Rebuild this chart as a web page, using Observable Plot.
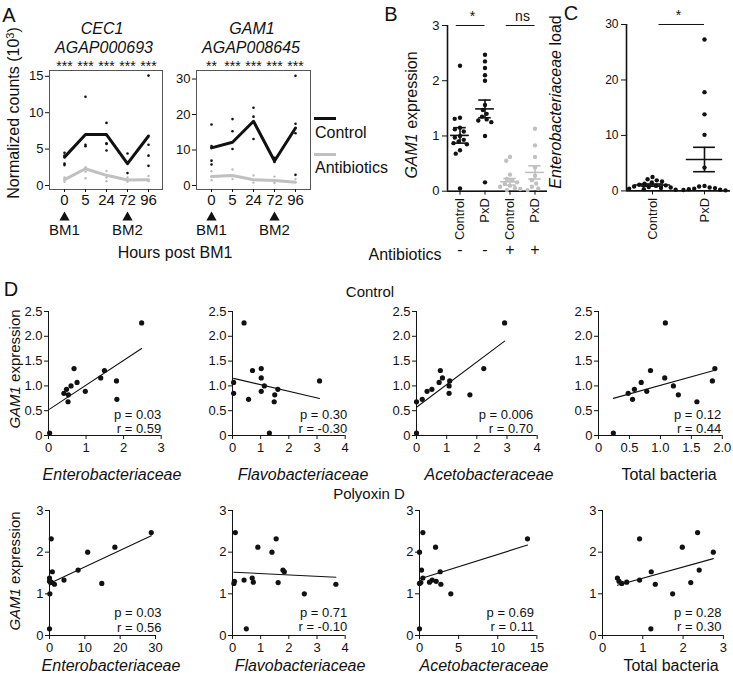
<!DOCTYPE html>
<html><head><meta charset="utf-8">
<script src="https://cdn.jsdelivr.net/npm/d3@7"></script>
<script src="https://cdn.jsdelivr.net/npm/@observablehq/plot@0.6"></script>
<style>
body{margin:0;background:#fff;font-family:"Liberation Sans",Arial,Helvetica,sans-serif;}
#root{position:relative;width:733px;height:673px;overflow:hidden;background:#fff;}
.p{position:absolute;}
.t{position:absolute;white-space:nowrap;color:#111;font-size:16px;line-height:1;}
.c{transform:translate(-50%,-50%);}
.rot{transform:translate(-50%,-50%) rotate(-90deg);}
.l{transform:translate(0,-50%);}
.sw{position:absolute;height:3px;}
</style></head><body><div id="root"></div>
<script>
// ---------------- DATA ----------------
// Panel A
const hours = ["0", "5", "24", "72", "96"];
const bloodMeals = [{h: "0", label: "BM1"}, {h: "72", label: "BM2"}];
const cec1Stars = ["***", "***", "***", "***", "***"];
const cec1Control = [3.9, 7.0, 7.0, 3.0, 6.8];
const cec1Antibiotics = [0.8, 2.3, 1.4, 0.75, 0.8];
const cec1ControlReps = [[4.5, 4.1, 3.0, 2.8], [12.2, 5.6, 5.4], [8.6, 5.8, 5.7, 4.8], [4.4, 1.7], [15.1, 5.6, 4.1, 2.7]];
const cec1AntibioticsReps = [[1.1, 0.5], [2.5, 1.9, 1.0], [2.0, 1.1, 0.6], [1.1, 0.5], [1.3, 0.6]];
const gam1Stars = ["**", "***", "***", "***", "***"];
const gam1Control = [10.6, 12.2, 18.1, 6.9, 16.2];
const gam1Antibiotics = [2.5, 2.8, 1.6, 1.4, 0.9];
const gam1ControlReps = [[17.2, 11.1, 7.0, 5.9], [18.7, 15.3, 10.3], [21.9, 19.4, 13.1], [7.8, 6.6], [30.9, 17.4, 14.7, 3.0]];
const gam1AntibioticsReps = [[4.0, 1.5], [4.5, 1.8], [2.8, 0.8], [2.5, 0.7], [1.8]];

// Panel B
const bGroups = ["c-", "p-", "c+", "p+"];
const bTreatment = ["Control", "PxD", "Control", "PxD"];
const bAntibiotics = ["-", "-", "+", "+"];
const bControl = [2.27, 1.33, 1.31, 1.15, 1.12, 1.08, 1.0, 0.97, 0.93, 0.9, 0.87, 0.85, 0.74, 0.68, 0.05];
const bPxD = [2.47, 2.35, 2.23, 2.1, 2.0, 1.56, 1.47, 1.4, 1.35, 1.3, 1.28, 1.25, 1.0, 0.16];
const bAbControl = [0.62, 0.55, 0.3, 0.22, 0.2, 0.16, 0.13, 0.1, 0.08, 0.06, 0.04, 0.02];
const bAbPxD = [1.13, 0.83, 0.62, 0.43, 0.28, 0.2, 0.14, 0.08, 0.05, 0.02];
const bMean = [1.01, 1.49, 0.17, 0.34];
const bSem = [0.14, 0.16, 0.06, 0.12];
const bSig = [{a: "c-", b: "p-", label: "*"}, {a: "c+", b: "p+", label: "ns"}];

// Panel C
const cGroups = ["Control", "PxD"];
const cControl = [2.5, 2.1, 1.9, 1.7, 1.5, 1.3, 1.1, 1.0, 0.9, 0.8, 0.7, 0.6, 0.5, 0.4, 0.3, 0.2];
const cPxD = [27.3, 17.8, 13.8, 10.1, 4.2, 0.9, 0.8, 0.6, 0.5, 0.4, 0.3, 0.2, 0.15, 0.1];
const cMean = [1.05, 5.66];
const cSem = [0.2, 2.2];

// Panel D, Control row (same mosquitoes in each panel)
const ctrlGAM1 = [2.27, 1.35, 1.31, 1.16, 1.10, 1.07, 1.00, 0.93, 0.89, 0.85, 0.82, 0.73, 0.68, 0.05];
const ctrlEntero = [2.48, 0.68, 1.49, 1.39, 1.81, 0.76, 0.60, 0.48, 0.98, 0.41, 0.53, 1.82, 0.52, 0.03];
const ctrlFlavo = [0.41, 1.02, 0.71, 1.02, 3.09, 0.04, 1.13, 1.61, 1.02, 0.04, 1.50, 0.57, 1.48, 1.31];
const ctrlAceto = [2.92, 2.23, 0.79, 0.86, 1.10, 0.75, 1.08, 0.51, 0.35, 1.08, 1.77, 0.19, 0.0, 0.0];
const ctrlTotal = [1.08, 1.88, 0.84, 1.07, 1.84, 0.69, 1.21, 0.58, 0.78, 0.48, 1.29, 0.55, 1.59, 0.24];
const ctrlP = ["0.03", "0.30", "0.006", "0.12"];
const ctrlR = ["0.59", "-0.30", "0.70", "0.44"];

// Panel D, Polyoxin D row
const pxdGAM1 = [2.47, 2.32, 2.12, 2.00, 1.57, 1.53, 1.38, 1.33, 1.30, 1.28, 1.27, 1.25, 1.23, 1.00, 0.16];
const pxdEntero = [28.8, 0.5, 18.5, 10.8, 8.1, 0.8, 0.0, 4.1, 0.0, 0.5, 0.3, 14.8, 1.4, 0.1, 0.0];
const pxdFlavo = [0.1, 1.55, 0.9, 1.4, 1.79, 1.84, 0.70, 0.41, 0.07, 0.74, 1.62, 0.05, 3.67, 2.55, 0.49];
const pxdAceto = [0.43, 13.8, 2.05, 0.0, 0.26, 2.64, 0.43, 1.62, 2.13, 1.28, 0.17, 0.0, 2.73, 4.0, 0.0];
const pxdTotal = [2.36, 0.92, 1.98, 2.75, 2.40, 1.21, 0.37, 0.92, 0.41, 0.60, 2.19, 0.48, 1.31, 1.74, 1.20];
const pxdP = ["0.03", "0.71", "0.69", "0.28"];
const pxdR = ["0.56", "-0.10", "0.11", "0.30"];

const taxa = ["Enterobacteriaceae", "Flavobacteriaceae", "Acetobacteraceae", "Total bacteria"];

// ---------------- HELPERS ----------------
const FONT = '"Liberation Sans", Arial, Helvetica, sans-serif';
const INK = "#111";
const GRAY = "#c0c0c0";
const root = document.getElementById("root");
function style(fs) { return {fontFamily: FONT, fontSize: fs + "px", color: INK, background: "none", overflow: "visible"}; }
function box(x0, y0, x1, y1, m) {
  return {width: x1 - x0 + m.l + m.r, height: y1 - y0 + m.t + m.b, left: x0 - m.l, top: y0 - m.t,
    marginLeft: m.l, marginRight: m.r, marginTop: m.t, marginBottom: m.b};
}
function mount(svg, b) {
  const d = document.createElement("div");
  d.className = "p"; d.style.left = b.left + "px"; d.style.top = b.top + "px";
  d.appendChild(svg); root.appendChild(d);
}
function txt(html, x, y, cls, fs, extra) {
  const d = document.createElement("div");
  d.className = "t " + cls; d.innerHTML = html;
  d.style.left = x + "px"; d.style.top = y + "px";
  if (fs) d.style.fontSize = fs + "px";
  if (extra) Object.assign(d.style, extra);
  root.appendChild(d);
}
function dims(b) {
  return {width: b.width, height: b.height, marginLeft: b.marginLeft, marginRight: b.marginRight, marginTop: b.marginTop, marginBottom: b.marginBottom};
}
const plain = d => String(d);

// ---------------- PANEL A ----------------
function timecourse(g) {
  const b = box(g.x0, 70, g.x1, 189, {l: 40, r: 6, t: 45, b: 75});
  const means = hours.map((h, i) => ({h, c: g.ctrl[i], a: g.abx[i]}));
  const cPts = hours.flatMap((h, i) => g.ctrlReps[i].map(v => ({h, v})));
  const aPts = hours.flatMap((h, i) => g.abxReps[i].map(v => ({h, v})));
  const svg = Plot.plot({
    ...dims(b), style: style(13),
    x: {type: "point", domain: hours, padding: 0.6},
    y: {domain: g.ydom},
    marks: [
      Plot.frame({stroke: "#555"}),
      Plot.axisY({ticks: g.yticks, tickFormat: plain, tickSize: 4, tickPadding: 2, label: null, fontSize: 13}),
      Plot.axisX({tickSize: 3, tickPadding: 2, label: null, fontSize: 15}),
      Plot.dot(aPts, {x: "h", y: "v", r: 1.2, fill: "#bbb"}),
      Plot.dot(cPts, {x: "h", y: "v", r: 1.3, fill: INK}),
      Plot.line(means, {x: "h", y: "a", stroke: GRAY, strokeWidth: 3}),
      Plot.line(means, {x: "h", y: "c", stroke: INK, strokeWidth: 3}),
      Plot.text(hours, {x: d => d, text: (d, i) => g.stars[i], frameAnchor: "top", dy: -9, fontSize: 14}),
      Plot.dot(bloodMeals, {x: "h", frameAnchor: "bottom", dy: 28, symbol: "triangle", r: 3.8, fill: INK}),
      Plot.text(bloodMeals, {x: "h", text: "label", frameAnchor: "bottom", dy: 45, fontSize: 15})
    ]
  });
  mount(svg, b);
}
timecourse({x0: 49, x1: 162, ydom: [-0.55, 15.8], yticks: [0, 5, 10, 15], stars: cec1Stars,
  ctrl: cec1Control, abx: cec1Antibiotics, ctrlReps: cec1ControlReps, abxReps: cec1AntibioticsReps});
timecourse({x0: 196, x1: 310, ydom: [-1.13, 32.4], yticks: [0, 10, 20, 30], stars: gam1Stars,
  ctrl: gam1Control, abx: gam1Antibiotics, ctrlReps: gam1ControlReps, abxReps: gam1AntibioticsReps});

txt("A", 9, 15, "c", 20);
txt("<i>CEC1</i>", 102, 29, "c", 16);
txt("<i>AGAP000693</i>", 104, 48, "c", 16);
txt("<i>GAM1</i>", 252, 29, "c", 16);
txt("<i>AGAP008645</i>", 251, 48, "c", 16);
txt("Normalized counts (10<sup style='font-size:11px;vertical-align:5px'>3</sup>)", 13, 113, "rot", 16);
txt("Hours post BM1", 175, 253, "c", 16);
// legend
const sw1 = document.createElement("div"); sw1.className = "sw";
Object.assign(sw1.style, {left: "314px", top: "117px", width: "22px", background: INK}); root.appendChild(sw1);
const sw2 = document.createElement("div"); sw2.className = "sw";
Object.assign(sw2.style, {left: "314px", top: "153px", width: "22px", background: GRAY}); root.appendChild(sw2);
txt("Control", 315, 133, "l", 16);
txt("Antibiotics", 315, 168, "l", 16);

// ---------------- PANELS B and C ----------------
function dotColumns(o) {
  const b = box(o.x0, o.y0, o.x1, o.y1, o.m);
  const pts = o.groups.flatMap((g, i) => o.values[i].map(v => ({g, v, gray: o.gray[i]})));
  const stats = o.groups.map((g, i) => ({g, m: o.mean[i], lo: o.mean[i] - o.sem[i], hi: o.mean[i] + o.sem[i], gray: o.gray[i]}));
  const blk = stats.filter(d => !d.gray), gry = stats.filter(d => d.gray);
  const statMarks = (data, color) => [
    Plot.ruleY(data, {fx: "g", y: "m", x1: -o.mw, x2: o.mw, stroke: color, strokeWidth: 1.6}),
    Plot.ruleY(data, {fx: "g", y: "lo", x1: -o.sw, x2: o.sw, stroke: color, strokeWidth: 1.6}),
    Plot.ruleY(data, {fx: "g", y: "hi", x1: -o.sw, x2: o.sw, stroke: color, strokeWidth: 1.6}),
    Plot.ruleX(data, {fx: "g", x: 0, y1: "lo", y2: "hi", stroke: color, strokeWidth: 1.6})
  ];
  const svg = Plot.plot({
    ...dims(b), style: style(13),
    fx: {domain: o.groups, padding: 0},
    x: {domain: [-1, 1], axis: null},
    y: {domain: o.ydom},
    marks: [
      Plot.axisY({ticks: o.yticks, tickFormat: plain, tickSize: 5, tickPadding: 3, label: null, fontSize: o.yfs}),
      Plot.axisFx({anchor: "bottom", tickSize: 4, tickPadding: 3, tickRotate: -90, label: null,
        tickFormat: g => o.names[o.groups.indexOf(g)], fontSize: 13}),
      Plot.ruleY([0], {stroke: INK, strokeWidth: 1.6}),
      Plot.ruleX([o.groups[0]], {fx: d => d, x: -1, y1: o.ydom[0], y2: o.ydom[1], stroke: INK, strokeWidth: 1.6}),
      Plot.dot(pts.filter(d => d.gray), Plot.dodgeX("middle", {fx: "g", y: "v", r: 2.2, fill: GRAY, padding: 0.6})),
      Plot.dot(pts.filter(d => !d.gray), Plot.dodgeX("middle", {fx: "g", y: "v", r: 2.2, fill: INK, padding: 0.6})),
      ...statMarks(gry, GRAY),
      ...statMarks(blk, INK),
      Plot.ruleY(o.sig, {fx: "a", y: o.ydom[1], x1: o.sigx, x2: 1, stroke: INK}),
      Plot.ruleY(o.sig, {fx: "b", y: o.ydom[1], x1: -1, x2: 0, stroke: INK}),
      Plot.text(o.sig, {fx: "a", x: 1, y: o.ydom[1], text: "label", dy: -9, fontSize: 14}),
      ...(o.signs ? [Plot.text(o.groups, {fx: d => d, text: (d, i) => o.signs[i], frameAnchor: "bottom", dy: 64, fontSize: 16})] : [])
    ]
  });
  mount(svg, b);
}
dotColumns({x0: 445, x1: 548, y0: 25, y1: 190.7, m: {l: 40, r: 8, t: 22, b: 75},
  groups: bGroups, names: bTreatment, values: [bControl, bPxD, bAbControl, bAbPxD], gray: [false, false, true, true],
  mean: bMean, sem: bSem, ydom: [0, 3], yticks: [0, 1, 2, 3], yfs: 13, mw: 0.75, sw: 0.5, sig: bSig, sigx: -0.3, signs: bAntibiotics});
txt("B", 391, 14, "c", 20);
txt("<i>GAM1</i> expression", 412, 115, "rot", 16);
txt("Antibiotics", 405, 255, "c", 16);

dotColumns({x0: 625.7, x1: 730, y0: 24.3, y1: 190.7, m: {l: 40, r: 3, t: 22, b: 60},
  groups: cGroups, names: cGroups, values: [cControl, cPxD], gray: [false, false],
  mean: cMean, sem: cSem, ydom: [0, 30], yticks: [0, 10, 20, 30], yfs: 12, mw: 0.7, sw: 0.42,
  sig: [{a: "Control", b: "PxD", label: "*"}], sigx: 0.25, signs: null});
txt("C", 571, 13, "c", 20);
txt("<i>Enterobacteriaceae</i> load", 556, 102, "rot", 16);

// ---------------- PANEL D ----------------
function scatter(o) {
  const b = box(o.x0, o.y0, o.x1, o.y1, {l: 32, r: 8, t: 8, b: 22});
  const data = o.ys.map((y, i) => ({x: o.xs[i], y}));
  const svg = Plot.plot({
    ...dims(b), style: style(13),
    x: {domain: o.xdom},
    y: {domain: o.ydom},
    marks: [
      Plot.axisX({ticks: o.xticks, tickFormat: o.fmt || plain, tickSize: 4, tickPadding: 3, label: null, fontSize: 13}),
      Plot.axisY({ticks: o.yticks, tickFormat: o.yfmt || plain, tickSize: 4, tickPadding: 2, label: null, fontSize: 13}),
      Plot.ruleY([0], {stroke: INK}),
      Plot.ruleX([0], {stroke: INK}),
      Plot.linearRegressionY(data, {x: "x", y: "y", ci: 0, stroke: INK, strokeWidth: 1.1}),
      Plot.dot(data, {x: "x", y: "y", r: 2.6, fill: INK}),
      Plot.text([0], {text: () => "p = " + o.p + "\nr = " + o.r, frameAnchor: "bottom-right", textAnchor: "end",
        lineAnchor: "bottom", lineHeight: 1.12, dx: o.sdx, dy: o.sdy, fontSize: 13})
    ]
  });
  mount(svg, b);
}
const dec1 = d => d === 0 ? "0" : d.toFixed(1);
const row1 = [
  {x0: 48.3, x1: 161, xdom: [0, 3], xticks: [0, 1, 2, 3], xs: ctrlEntero, sdx: 0, lab: 112},
  {x0: 232.3, x1: 345, xdom: [0, 4], xticks: [0, 1, 2, 3, 4], xs: ctrlFlavo, sdx: 2, lab: 303},
  {x0: 416, x1: 536.7, xdom: [0, 4], xticks: [0, 1, 2, 3, 4], xs: ctrlAceto, sdx: -4, lab: 489},
  {x0: 597.7, x1: 721.5, xdom: [0, 2], xticks: [0, 0.5, 1, 1.5, 2], xs: ctrlTotal, sdx: -1, fmt: dec1, lab: 669}
];
row1.forEach((o, i) => scatter({...o, y0: 311, y1: 435, ydom: [0, 2.5], yticks: [0, 0.5, 1, 1.5, 2, 2.5], yfmt: dec1,
  ys: ctrlGAM1, p: ctrlP[i], r: ctrlR[i], sdy: -2}));
const row2 = [
  {x0: 49, x1: 155, xdom: [0, 30], xticks: [0, 10, 20, 30], xs: pxdEntero, sdx: 6, lab: 111},
  {x0: 232.3, x1: 345, xdom: [0, 4], xticks: [0, 1, 2, 3, 4], xs: pxdFlavo, sdx: 2, lab: 300},
  {x0: 419.3, x1: 536.7, xdom: [0, 15], xticks: [0, 5, 10, 15], xs: pxdAceto, sdx: -3, lab: 484},
  {x0: 602.3, x1: 723.2, xdom: [0, 3], xticks: [0, 1, 2, 3], xs: pxdTotal, sdx: -2, lab: 671}
];
row2.forEach((o, i) => scatter({...o, y0: 510, y1: 635, ydom: [0, 3], yticks: [0, 1, 2, 3],
  ys: pxdGAM1, p: pxdP[i], r: pxdR[i], sdy: -4}));

row1.forEach((o, i) => txt(i < 3 ? "<i>" + taxa[i] + "</i>" : taxa[i], o.lab, 475, "c", 16));
row2.forEach((o, i) => txt(i < 3 ? "<i>" + taxa[i] + "</i>" : taxa[i], o.lab, 666, "c", 16));
txt("D", 11, 289, "c", 20);
txt("Control", 370, 291, "c", 15);
txt("Polyoxin D", 369, 493, "c", 15);
txt("<i>GAM1</i> expression", 14, 369, "rot", 15);
txt("<i>GAM1</i> expression", 14, 571, "rot", 15);
</script></body></html>
